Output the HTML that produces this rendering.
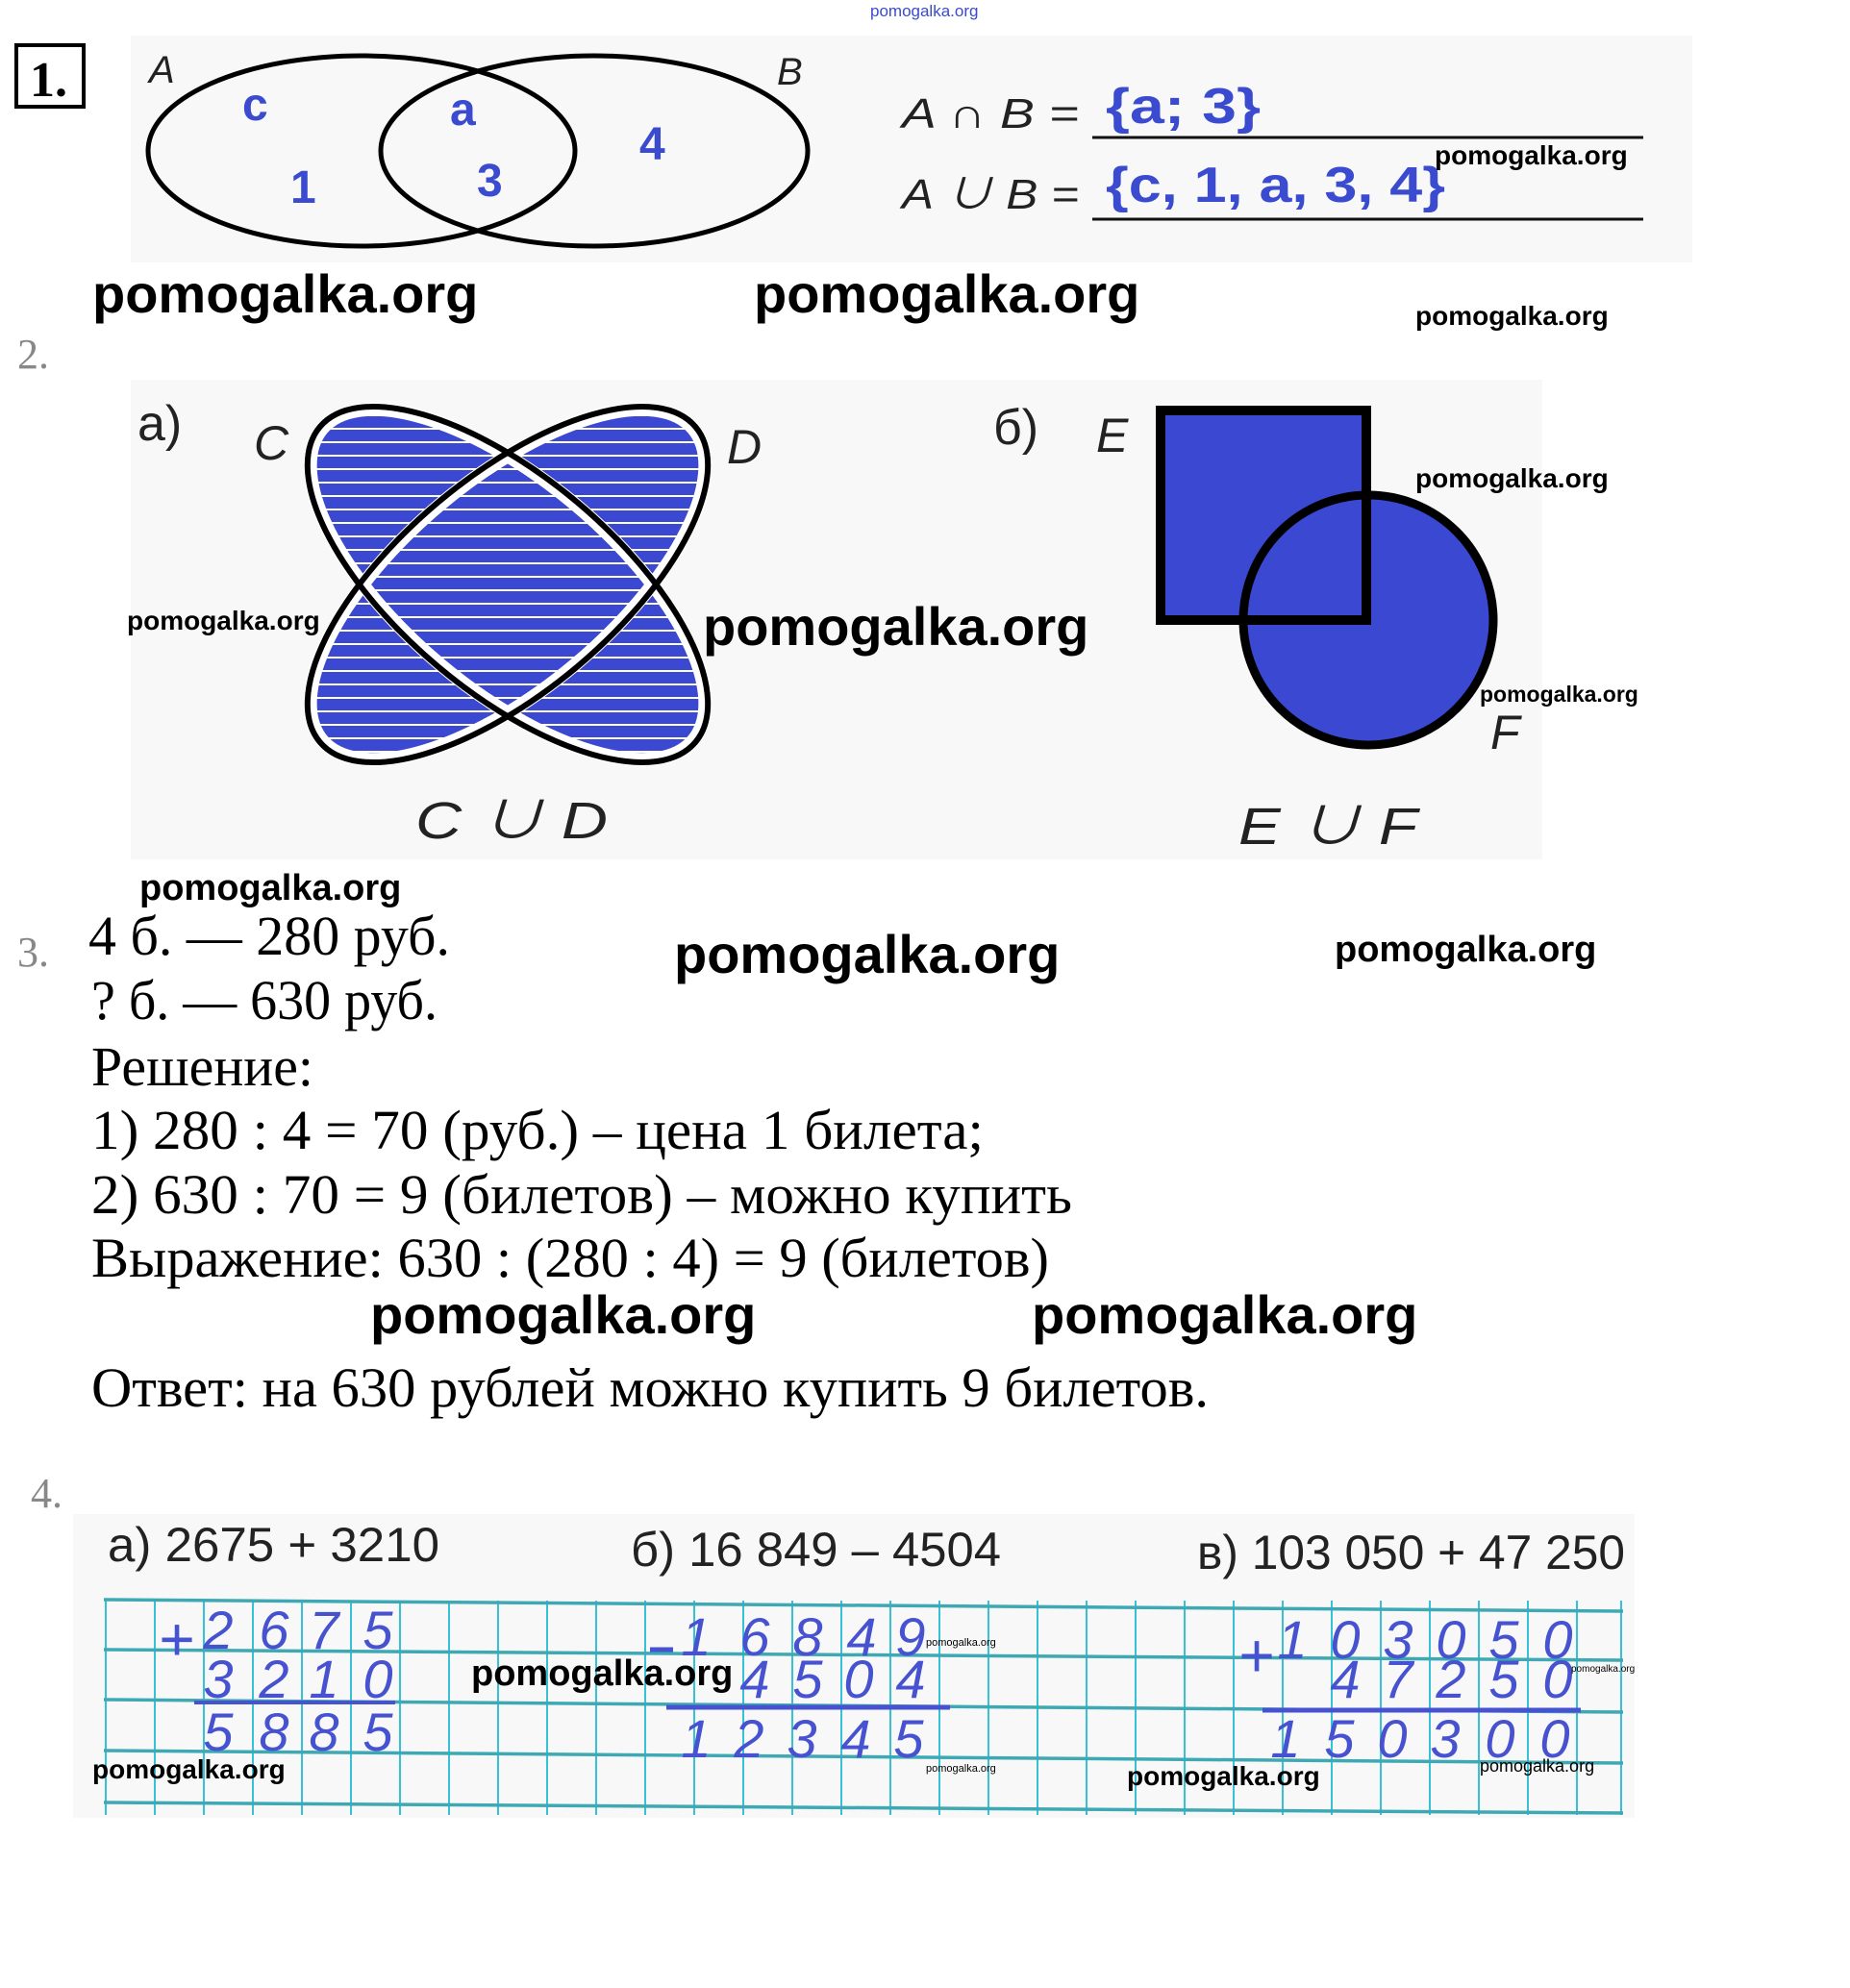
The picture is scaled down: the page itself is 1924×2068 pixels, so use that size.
<!DOCTYPE html>
<html><head><meta charset="utf-8"><style>
html,body{margin:0;padding:0;background:#fff;}
svg{display:block;}
.wm{font-family:"Liberation Sans",sans-serif;font-weight:bold;fill:#000;}
.tm{font-family:"Liberation Serif","Noto Serif CJK SC",serif;fill:#000;}
.hd{font-family:"Liberation Sans","Noto Sans CJK SC",sans-serif;fill:#222;}
.bl{font-family:"Liberation Sans",sans-serif;font-weight:bold;fill:#3a4bcf;}
.hw{font-family:"Liberation Sans",sans-serif;font-style:italic;fill:#4652cf;font-size:56px;text-anchor:middle;}
</style></head><body>
<svg width="1924" height="2068" viewBox="0 0 1924 2068" xmlns="http://www.w3.org/2000/svg">
<defs>
<pattern id="st" x="0" y="0" width="20" height="14" patternUnits="userSpaceOnUse">
<rect width="20" height="14" fill="#3a48d2"/><rect y="11" width="20" height="2" fill="#fff"/>
</pattern>
<clipPath id="cu">
<ellipse cx="528" cy="608" rx="255" ry="112" transform="rotate(40 528 608)"/>
<ellipse cx="528" cy="608" rx="255" ry="112" transform="rotate(-40 528 608)"/>
</clipPath>
</defs>
<text x="905" y="17" class="wm" style="font-size:17px;fill:#3a4bcf;font-weight:normal">pomogalka.org</text>

<!-- Section 1 -->
<rect x="136" y="37" width="1624" height="236" fill="#f8f8f8"/>
<rect x="17" y="47" width="70" height="64" fill="none" stroke="#000" stroke-width="4"/>
<text x="31" y="100" class="tm" style="font-size:52px;font-weight:bold">1.</text>
<ellipse cx="376" cy="157" rx="222" ry="99" fill="none" stroke="#000" stroke-width="5"/>
<ellipse cx="618" cy="157" rx="222" ry="99" fill="none" stroke="#000" stroke-width="5"/>
<text x="155" y="86" class="hd" style="font-size:40px;font-style:italic">A</text>
<text x="808" y="88" class="hd" style="font-size:40px;font-style:italic">B</text>
<text x="252" y="125" class="bl" style="font-size:48px">c</text>
<text x="468" y="130" class="bl" style="font-size:48px">a</text>
<text x="665" y="166" class="bl" style="font-size:48px">4</text>
<text x="302" y="211" class="bl" style="font-size:48px">1</text>
<text x="496" y="204" class="bl" style="font-size:48px">3</text>
<text x="938" y="133" class="hd" style="font-size:44px;font-style:italic" textLength="184" lengthAdjust="spacingAndGlyphs">A ∩ B =</text>
<text x="938" y="217" class="hd" style="font-size:44px;font-style:italic" textLength="184" lengthAdjust="spacingAndGlyphs">A ∪ B =</text>
<line x1="1136" y1="143" x2="1709" y2="143" stroke="#111" stroke-width="3"/>
<line x1="1136" y1="228" x2="1709" y2="228" stroke="#111" stroke-width="3"/>
<text x="1150" y="128" class="bl" style="font-size:52px" textLength="161" lengthAdjust="spacingAndGlyphs">{a; 3}</text>
<text x="1150" y="210" class="bl" style="font-size:52px" textLength="353" lengthAdjust="spacingAndGlyphs">{c, 1, a, 3, 4}</text>
<text x="1492" y="171" class="wm" style="font-size:28px">pomogalka.org</text>

<text x="96" y="325" class="wm" style="font-size:56px">pomogalka.org</text>
<text x="784" y="325" class="wm" style="font-size:56px">pomogalka.org</text>
<text x="1472" y="338" class="wm" style="font-size:28px">pomogalka.org</text>
<text x="18" y="383" class="tm" style="font-size:44px;fill:#888">2.</text>

<!-- Section 2 -->
<rect x="136" y="395" width="1468" height="499" fill="#f8f8f8"/>
<text x="143" y="458" class="hd" style="font-size:52px">а)</text>
<text x="264" y="478" class="hd" style="font-size:50px;font-style:italic">C</text>
<text x="756" y="482" class="hd" style="font-size:50px;font-style:italic">D</text>
<rect x="260" y="400" width="540" height="420" fill="url(#st)" clip-path="url(#cu)"/>
<g fill="none" stroke="#fff" stroke-width="14">
<ellipse cx="528" cy="608" rx="252" ry="109" transform="rotate(40 528 608)"/>
<ellipse cx="528" cy="608" rx="252" ry="109" transform="rotate(-40 528 608)"/>
</g>
<g fill="none" stroke="#000" stroke-width="6">
<ellipse cx="528" cy="608" rx="255" ry="112" transform="rotate(40 528 608)"/>
<ellipse cx="528" cy="608" rx="255" ry="112" transform="rotate(-40 528 608)"/>
</g>
<text x="132" y="655" class="wm" style="font-size:28px">pomogalka.org</text>
<text x="731" y="671" class="wm" style="font-size:56px">pomogalka.org</text>
<text x="432" y="872" class="hd" style="font-size:54px;font-style:italic" textLength="200" lengthAdjust="spacingAndGlyphs">C ∪ D</text>

<text x="1033" y="462" class="hd" style="font-size:52px">б)</text>
<text x="1140" y="470" class="hd" style="font-size:50px;font-style:italic">E</text>
<rect x="1207" y="427" width="214" height="218" fill="#3a48d2"/>
<circle cx="1423" cy="645" r="130" fill="#3a48d2"/>
<rect x="1207" y="427" width="214" height="218" fill="none" stroke="#000" stroke-width="10"/>
<circle cx="1423" cy="645" r="130" fill="none" stroke="#000" stroke-width="9"/>
<text x="1472" y="507" class="wm" style="font-size:28px">pomogalka.org</text>
<text x="1539" y="730" class="wm" style="font-size:23px">pomogalka.org</text>
<text x="1550" y="779" class="hd" style="font-size:50px;font-style:italic">F</text>
<text x="1288" y="878" class="hd" style="font-size:54px;font-style:italic" textLength="186" lengthAdjust="spacingAndGlyphs">E ∪ F</text>

<!-- Section 3 -->
<text x="145" y="936" class="wm" style="font-size:38px">pomogalka.org</text>
<text x="18" y="1005" class="tm" style="font-size:44px;fill:#888">3.</text>
<text x="92" y="993" class="tm" style="font-size:58px" textLength="376" lengthAdjust="spacingAndGlyphs">4 б. — 280 руб.</text>
<text x="95" y="1060" class="tm" style="font-size:58px" textLength="360" lengthAdjust="spacingAndGlyphs">? б. — 630 руб.</text>
<text x="701" y="1012" class="wm" style="font-size:56px">pomogalka.org</text>
<text x="1388" y="1000" class="wm" style="font-size:38px">pomogalka.org</text>
<text x="95" y="1129" class="tm" style="font-size:58px" textLength="231" lengthAdjust="spacingAndGlyphs">Решение:</text>
<text x="95" y="1195" class="tm" style="font-size:58px" textLength="928" lengthAdjust="spacingAndGlyphs">1)  280 : 4 = 70 (руб.) – цена 1 билета;</text>
<text x="95" y="1262" class="tm" style="font-size:58px" textLength="1020" lengthAdjust="spacingAndGlyphs">2)  630 : 70 = 9 (билетов) – можно купить</text>
<text x="95" y="1328" class="tm" style="font-size:58px" textLength="996" lengthAdjust="spacingAndGlyphs">Выражение: 630 : (280 : 4) = 9 (билетов)</text>
<text x="385" y="1387" class="wm" style="font-size:56px">pomogalka.org</text>
<text x="1073" y="1387" class="wm" style="font-size:56px">pomogalka.org</text>
<text x="95" y="1463" class="tm" style="font-size:58px" textLength="1162" lengthAdjust="spacingAndGlyphs">Ответ: на 630 рублей можно купить 9 билетов.</text>

<!-- Section 4 -->
<text x="32" y="1568" class="tm" style="font-size:44px;fill:#888">4.</text>
<rect x="76" y="1575" width="1624" height="316" fill="#f8f8f8"/>
<text x="112" y="1624" class="hd" style="font-size:50px" textLength="345" lengthAdjust="spacingAndGlyphs">а) 2675 + 3210</text>
<text x="656" y="1629" class="hd" style="font-size:50px" textLength="385" lengthAdjust="spacingAndGlyphs">б) 16 849 – 4504</text>
<text x="1245" y="1632" class="hd" style="font-size:50px" textLength="445" lengthAdjust="spacingAndGlyphs">в) 103 050 + 47 250</text>
<g stroke="#35c2d6" stroke-width="2">
<line x1="110" y1="1665" x2="110" y2="1888"/><line x1="161" y1="1665" x2="161" y2="1888"/><line x1="212" y1="1665" x2="212" y2="1888"/><line x1="263" y1="1665" x2="263" y2="1888"/><line x1="314" y1="1665" x2="314" y2="1888"/><line x1="365" y1="1665" x2="365" y2="1888"/><line x1="416" y1="1665" x2="416" y2="1888"/><line x1="467" y1="1665" x2="467" y2="1888"/><line x1="518" y1="1665" x2="518" y2="1888"/><line x1="569" y1="1665" x2="569" y2="1888"/><line x1="620" y1="1665" x2="620" y2="1888"/><line x1="671" y1="1665" x2="671" y2="1888"/><line x1="722" y1="1665" x2="722" y2="1888"/><line x1="773" y1="1665" x2="773" y2="1888"/><line x1="824" y1="1665" x2="824" y2="1888"/><line x1="875" y1="1665" x2="875" y2="1888"/><line x1="926" y1="1665" x2="926" y2="1888"/><line x1="977" y1="1665" x2="977" y2="1888"/><line x1="1028" y1="1665" x2="1028" y2="1888"/><line x1="1079" y1="1665" x2="1079" y2="1888"/><line x1="1130" y1="1665" x2="1130" y2="1888"/><line x1="1181" y1="1665" x2="1181" y2="1888"/><line x1="1232" y1="1665" x2="1232" y2="1888"/><line x1="1283" y1="1665" x2="1283" y2="1888"/><line x1="1334" y1="1665" x2="1334" y2="1888"/><line x1="1385" y1="1665" x2="1385" y2="1888"/><line x1="1436" y1="1665" x2="1436" y2="1888"/><line x1="1487" y1="1665" x2="1487" y2="1888"/><line x1="1538" y1="1665" x2="1538" y2="1888"/><line x1="1589" y1="1665" x2="1589" y2="1888"/><line x1="1640" y1="1665" x2="1640" y2="1888"/><line x1="1686" y1="1665" x2="1686" y2="1888"/>
</g>
<g stroke="#3ea9b4" stroke-width="3.5">
<line x1="108" y1="1664" x2="1688" y2="1676"/><line x1="108" y1="1716" x2="1688" y2="1727"/><line x1="108" y1="1768" x2="1688" y2="1781"/><line x1="108" y1="1821" x2="1688" y2="1834"/><line x1="108" y1="1875" x2="1688" y2="1886"/>
</g>
<text x="184" y="1727" class="hw" style="font-size:64px;font-style:normal">+</text>
<text x="227" y="1715" class="hw">2</text><text x="285" y="1715" class="hw">6</text><text x="337" y="1715" class="hw">7</text><text x="393" y="1715" class="hw">5</text>
<text x="227" y="1766" class="hw">3</text><text x="285" y="1766" class="hw">2</text><text x="337" y="1766" class="hw">1</text><text x="393" y="1766" class="hw">0</text>
<line x1="202" y1="1771" x2="411" y2="1771" stroke="#4652cf" stroke-width="4"/>
<text x="227" y="1821" class="hw">5</text><text x="285" y="1821" class="hw">8</text><text x="337" y="1821" class="hw">8</text><text x="393" y="1821" class="hw">5</text>
<line x1="676" y1="1716" x2="700" y2="1716" stroke="#4652cf" stroke-width="5"/>
<text x="724" y="1722" class="hw">1</text><text x="785" y="1722" class="hw">6</text><text x="840" y="1722" class="hw">8</text><text x="896" y="1722" class="hw">4</text><text x="947" y="1722" class="hw">9</text>
<text x="785" y="1766" class="hw">4</text><text x="840" y="1766" class="hw">5</text><text x="893" y="1766" class="hw">0</text><text x="947" y="1766" class="hw">4</text>
<line x1="693" y1="1776" x2="988" y2="1776" stroke="#4652cf" stroke-width="5"/>
<text x="724" y="1828" class="hw">1</text><text x="779" y="1828" class="hw">2</text><text x="834" y="1828" class="hw">3</text><text x="890" y="1828" class="hw">4</text><text x="945" y="1828" class="hw">5</text>
<text x="1307" y="1744" class="hw" style="font-size:64px;font-style:normal">+</text>
<text x="1344" y="1725" class="hw">1</text><text x="1399" y="1725" class="hw">0</text><text x="1454" y="1725" class="hw">3</text><text x="1509" y="1725" class="hw">0</text><text x="1564" y="1725" class="hw">5</text><text x="1620" y="1725" class="hw">0</text>
<text x="1399" y="1766" class="hw">4</text><text x="1454" y="1766" class="hw">7</text><text x="1509" y="1766" class="hw">2</text><text x="1564" y="1766" class="hw">5</text><text x="1620" y="1766" class="hw">0</text>
<line x1="1313" y1="1779" x2="1644" y2="1779" stroke="#4652cf" stroke-width="5"/>
<text x="1337" y="1828" class="hw">1</text><text x="1393" y="1828" class="hw">5</text><text x="1448" y="1828" class="hw">0</text><text x="1503" y="1828" class="hw">3</text><text x="1560" y="1828" class="hw">0</text><text x="1617" y="1828" class="hw">0</text>
<text x="490" y="1753" class="wm" style="font-size:38px">pomogalka.org</text>
<text x="96" y="1850" class="wm" style="font-size:28px">pomogalka.org</text>
<text x="1172" y="1857" class="wm" style="font-size:28px">pomogalka.org</text>
<text x="1539" y="1843" class="wm" style="font-size:18px;font-weight:normal">pomogalka.org</text>
<text x="963" y="1712" class="wm" style="font-size:11px;font-weight:normal">pomogalka.org</text>
<text x="963" y="1843" class="wm" style="font-size:11px;font-weight:normal">pomogalka.org</text>
<text x="1634" y="1739" class="wm" style="font-size:10px;font-weight:normal">pomogalka.org</text>
</svg>
</body></html>
